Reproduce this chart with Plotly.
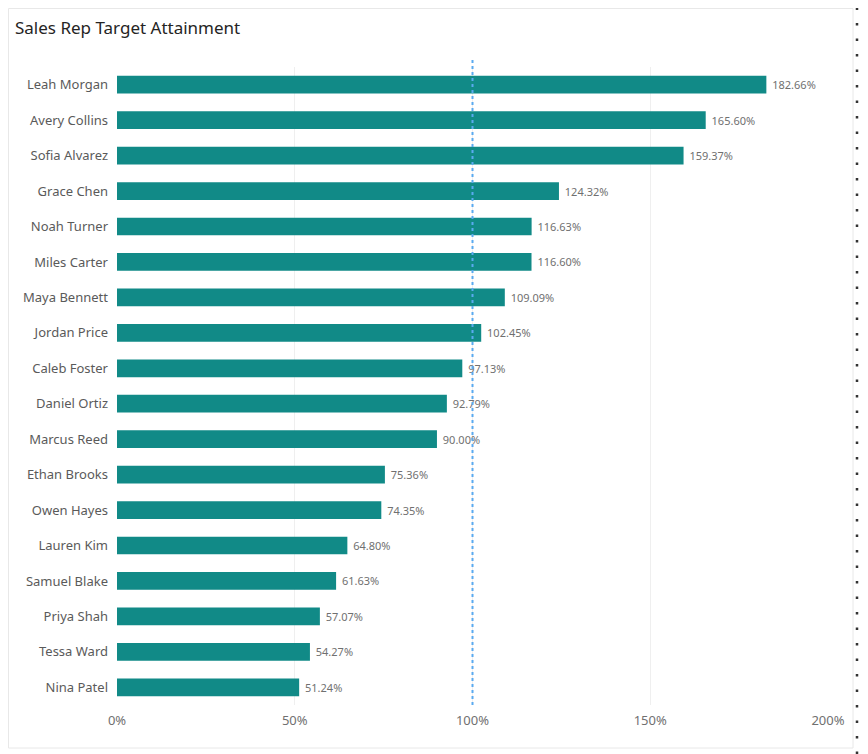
import plotly.graph_objects as go

reps = ["Leah Morgan", "Avery Collins", "Sofia Alvarez", "Grace Chen", "Noah Turner",
        "Miles Carter", "Maya Bennett", "Jordan Price", "Caleb Foster", "Daniel Ortiz",
        "Marcus Reed", "Ethan Brooks", "Owen Hayes", "Lauren Kim", "Samuel Blake",
        "Priya Shah", "Tessa Ward", "Nina Patel"]
attainment = [182.66, 165.60, 159.37, 124.32, 116.63, 116.60, 109.09, 102.45, 97.13,
              92.79, 90.00, 75.36, 74.35, 64.80, 61.63, 57.07, 54.27, 51.24]
target = 100
tick_vals = [0, 50, 100, 150, 200]
tick_text = ["0%", "50%", "100%", "150%", "200%"]

W, H = 868, 754
OFF = 8  # page offset of the figure inside the browser window
ML, MR, MT, MB = 117 - OFF, 48, 67 - OFF, 57
pw, ph = W - ML - MR, H - MT - MB

def px(x):
    return (x - OFF - ML) / pw

def py(y):
    return 1 - (y - OFF - MT) / ph

fig = go.Figure(go.Bar(
    x=attainment, y=reps, orientation="h",
    marker=dict(color="#118a87", line=dict(color="#118a87", width=0)),
    width=0.5,
    text=attainment, texttemplate="\u00a0%{x:.2f}%", textposition="outside",
    textfont=dict(size=11, color="#707070", family="Noto Sans"),
    cliponaxis=False,
))

fig.add_shape(type="line", xref="x", yref="paper", x0=target, x1=target, y0=0, y1=py(60),
              line=dict(color="#5aaaf0", width=2, dash="dot"), layer="above")

# card border
fig.add_shape(type="rect", xref="paper", yref="paper", x0=px(8.5), x1=px(853), y0=py(748), y1=py(8.5),
              line=dict(color="#e8e8e8", width=1), layer="below")
# dotted right edge
fig.add_shape(type="line", xref="paper", yref="paper", x0=px(857), x1=px(857), y0=py(754), y1=py(8),
              line=dict(color="#333333", width=2.5, dash="2.5px,13px"))

fig.update_layout(
    width=W, height=H,
    margin=dict(l=ML, r=MR, t=MT, b=MB),
    paper_bgcolor="white", plot_bgcolor="white",
    title=dict(text="Sales Rep Target Attainment", xref="container", yref="container",
               x=(15 - OFF) / W, xanchor="left", y=1 - (28 - OFF) / H, yanchor="middle",
               font=dict(family="Noto Sans", size=17, color="#252423")),
    xaxis=dict(range=[0, 200], tickvals=tick_vals, ticktext=tick_text, showgrid=True,
               gridcolor="#efefef", gridwidth=1, zeroline=False, showline=False,
               tickfont=dict(family="Noto Sans", size=13, color="#707070"), ticks="", ticklabelstandoff=6),
    yaxis=dict(categoryorder="array", categoryarray=reps, autorange="reversed", showgrid=False,
               tickfont=dict(family="Noto Sans", size=13, color="#5a5a5a"), ticks="", ticklabelstandoff=8),
    showlegend=False,
    font=dict(family="Noto Sans"),
)

fig.write_html("out.html")
